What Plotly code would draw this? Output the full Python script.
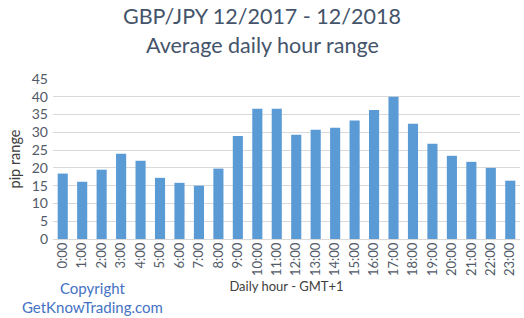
import plotly.graph_objects as go

hours = [f"{h}:00" for h in range(24)]
pip_range = [18.4, 16.1, 19.5, 24.0, 22.0, 17.2, 15.8, 15.0, 19.8, 29.0, 36.6, 36.6,
             29.3, 30.7, 31.3, 33.3, 36.3, 40.0, 32.4, 26.8, 23.4, 21.7, 20.0, 16.4]
y_ticks = [0, 5, 10, 15, 20, 25, 30, 35, 40, 45]

FONT = "Lato, 'Open Sans', sans-serif"
TITLE_C = "#44546A"
TICK_C = "#515A68"
AXT_C = "#404040"

W, H = 524, 318
L, R, T, B = 53, 4, 79, 79
PW, PH = W - L - R, H - T - B


def px_x(x):
    return (x - L) / PW


def px_y(y):
    return (H - B - y) / PH


fig = go.Figure(go.Bar(
    x=hours, y=pip_range,
    marker=dict(color="#5B9BD5", line=dict(width=0)),
    width=0.52,
))

fig.update_layout(
    width=W, height=H,
    margin=dict(l=L, r=R, t=T, b=B),
    paper_bgcolor="white", plot_bgcolor="white",
    font=dict(family=FONT, color=TICK_C, size=13),
    showlegend=False,
    xaxis=dict(
        type="category", range=[-0.5, 23.5],
        tickangle=-90, tickfont=dict(size=13, color=TICK_C),
        showgrid=False, showline=False, ticks="",
        title=dict(text="Daily hour - GMT+1", font=dict(size=13, color=AXT_C), standoff=6),
    ),
    yaxis=dict(
        range=[0, 45], tickvals=y_ticks,
        tickfont=dict(size=14, color=TICK_C),
        showgrid=True, gridcolor="#d9d9d9", gridwidth=1,
        zeroline=True, zerolinecolor="#d9d9d9", zerolinewidth=1,
        showline=False, ticks="", ticklabelstandoff=4,
        title=dict(text="pip range", font=dict(size=14.5, color=AXT_C), standoff=7),
    ),
    annotations=[
        dict(text="GBP/JPY 12/2017 - 12/2018", x=px_x(W / 2), y=px_y(16),
             font=dict(size=21.5, color=TITLE_C)),
        dict(text="Average daily hour range", x=px_x(W / 2), y=px_y(45),
             font=dict(size=21.5, color=TITLE_C)),
        dict(text="Copyright", x=px_x(92), y=px_y(288),
             font=dict(size=15, color="#4472C4")),
        dict(text="GetKnowTrading.com", x=px_x(92), y=px_y(307),
             font=dict(size=15, color="#4472C4")),
    ],
)
fig.update_annotations(xref="paper", yref="paper", showarrow=False,
                       xanchor="center", yanchor="middle")

fig.write_html("out.html")
